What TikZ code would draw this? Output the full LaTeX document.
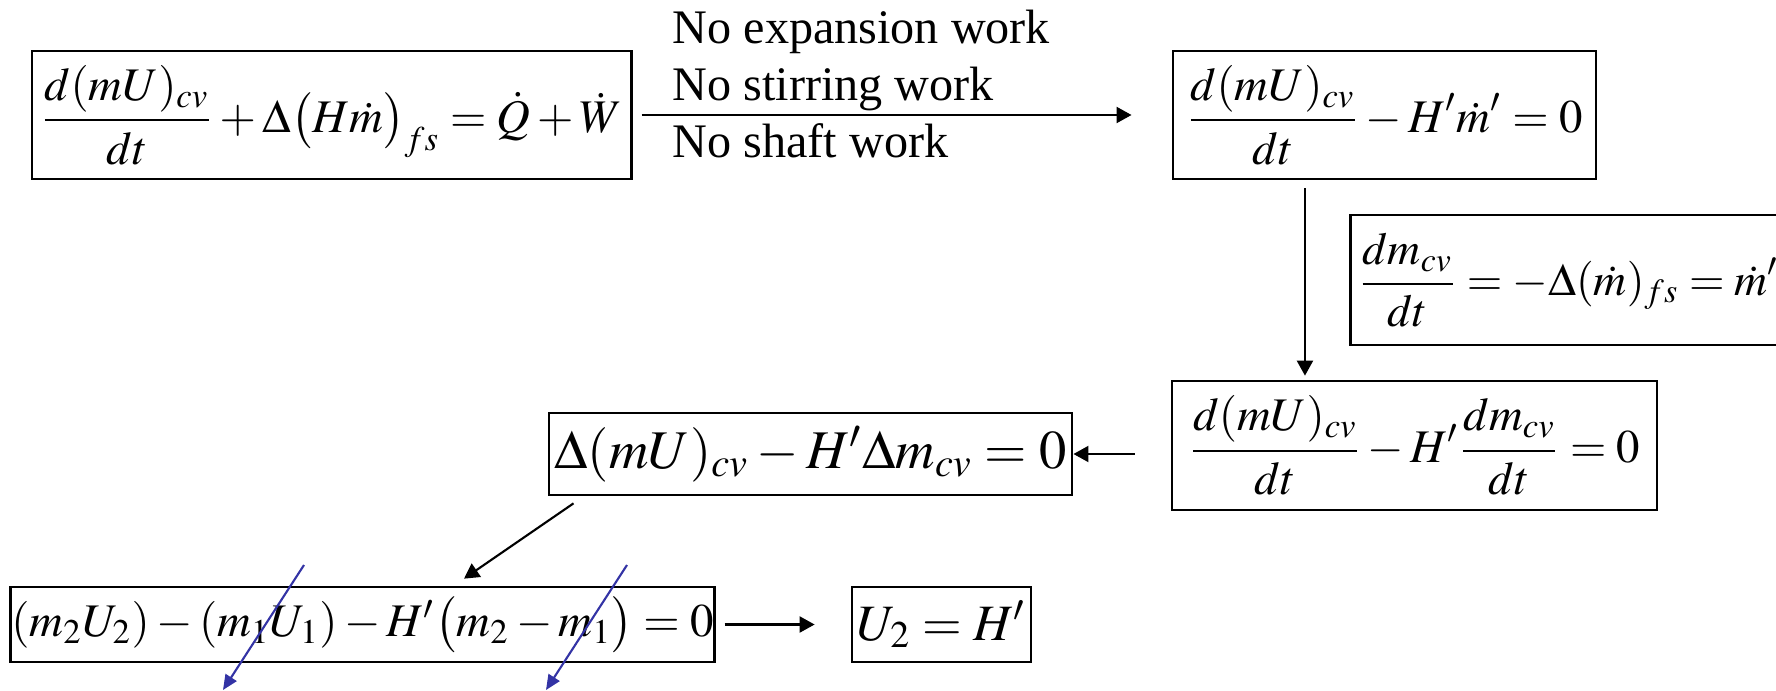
\documentclass[tikz,border=0pt]{standalone}
\usepackage{amsmath}
\usepackage{mathptmx}
\usepackage[no-math]{fontspec}
\setmainfont{Liberation Serif}
\usetikzlibrary{arrows.meta}

\definecolor{penblue}{RGB}{51,51,165}

\begin{document}
\begin{tikzpicture}[x=0.01cm,y=0.01cm,
    eqbox/.style={draw, line width=0.75pt, inner sep=0pt, font=\fontsize{13.3}{16}\selectfont},
    flow/.style={-{Triangle[length=0.15cm,width=0.16cm]}, line width=0.6pt},
    strike/.style={-{Triangle[length=0.15cm,width=0.13cm]}, line width=0.6pt, penblue}]
    \useasboundingbox (0,0) rectangle (1776,690);

    % Energy balance and the first simplification
    \node[eqbox, minimum width=5.99cm, minimum height=1.28cm] (energy) at (331.5,575)
        {$\displaystyle\frac{d(mU)_{cv}}{dt}+\Delta\bigl(H\dot m\bigr)_{fs}=\dot Q+\dot W$};
    \node[eqbox, minimum width=4.23cm, minimum height=1.28cm] (noWork) at (1384.5,575)
        {$\displaystyle\frac{d(mU)_{cv}}{dt}-H'\dot m'=0$};
    \node[font=\fontsize{13.7}{16.2}\selectfont, align=left, inner sep=0pt, anchor=west] (cond) at (672,606)
        {No expansion work\\No stirring work\\No shaft work};

    % Mass balance (runs off the right edge)
    \node[eqbox, font=\fontsize{13}{16}\selectfont, anchor=west, text width=4.45cm, align=left, inner xsep=0.08cm, minimum height=1.30cm] (massBal) at (1349,410)
        {$\displaystyle\frac{dm_{cv}}{dt}=-\Delta(\dot m)_{fs}=\dot m'$};

    % Rate form and integrated form
    \node[eqbox, minimum width=4.85cm, minimum height=1.29cm] (rate) at (1414.5,244.5)
        {$\displaystyle\frac{d(mU)_{cv}}{dt}-H'\frac{dm_{cv}}{dt}=0$};
    \node[eqbox, font=\fontsize{15.5}{18}\selectfont, minimum width=5.23cm, minimum height=0.82cm] (integ) at (810.5,236)
        {$\Delta(mU)_{cv}-H'\Delta m_{cv}=0$};
    \node[eqbox, font=\fontsize{13.3}{16}\selectfont, minimum width=7.03cm, minimum height=0.75cm] (final) at (362.5,65.5)
        {$(m_2U_2)-(m_1U_1)-H'\bigl(m_2-m_1\bigr)=0$};
    \node[eqbox, font=\fontsize{14.5}{17}\selectfont, minimum width=1.79cm, minimum height=0.75cm] (result) at (941.5,65.5)
        {$U_2=H'$};

    % Connectors
    \draw[flow, shorten <=0.09cm, shorten >=0.4cm] (energy.east) -- (noWork.west);
    \draw[flow, shorten <=0.08cm, shorten >=0.04cm] ([xshift=-0.795cm]noWork.south) -- ([xshift=-0.795cm]noWork.south |- rate.north);
    \draw[flow, shorten <=0.36cm] (rate.west |- integ.east) -- (integ.east);
    \draw[flow] ([shift={(26,-7)}]integ.south west) -- ([shift={(101.5,7)}]final.north);
    \draw[flow, shorten <=0.09cm, shorten >=0.36cm] (final.east) -- (result.west);

    % Blue strike-through arrows
    \coordinate (crossA) at (304,125);
    \coordinate (crossAend) at (223,0);
    \coordinate (crossB) at (627,125);
    \coordinate (crossBend) at (546,0);
    \draw[strike] (crossA) -- (crossAend);
    \draw[strike] (crossB) -- (crossBend);
\end{tikzpicture}
\end{document}
